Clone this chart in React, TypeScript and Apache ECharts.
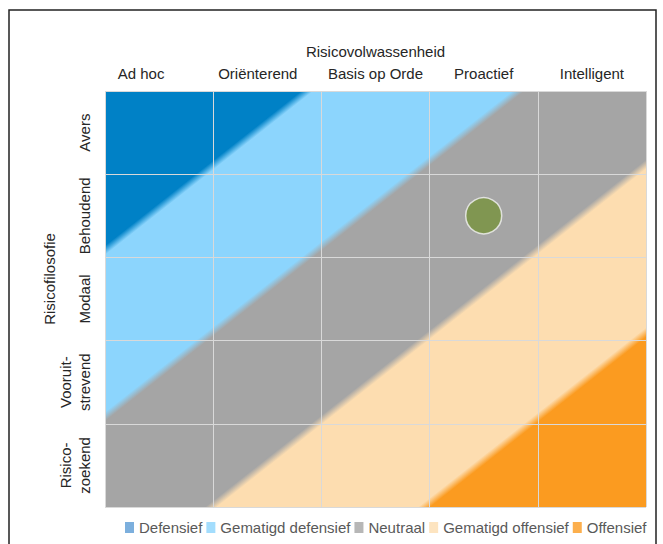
import React, { useEffect, useRef } from "react";
import * as echarts from "echarts";

// ---- data ----
const columns = ["Ad hoc", "Oriënterend", "Basis op Orde", "Proactief", "Intelligent"];
const rows = ["Avers", "Behoudend", "Modaal", "Vooruit-\nstrevend", "Risico-\nzoekend"];
const bandNames = ["Defensief", "Gematigd defensief", "Neutraal", "Gematigd offensief", "Offensief"];
// band boundaries along the diagonal u = column + tilt * row (in cell units)
const bandEdges = [1.87, 3.82, 5.86, 7.83];
const diagonalTilt = 0.976;
const currentPosition = [["Proactief", "Behoudend"]];
const xTitle = "Risicovolwassenheid";
const yTitle = "Risicofilosofie";

// ---- styles ----
const bandColors = ["#0081C6", "#8CD5FD", "#A5A5A5", "#FDDDB0", "#FB9B20"];
const legendColors = ["#5B9BD5", "#8CD5FD", "#A5A5A5", "#FDDDB0", "#FB9B20"];
const FONT = "'Liberation Sans', Arial, sans-serif";
const TEXT = "#262626";

export default function App() {
  const ref = useRef<HTMLDivElement>(null);

  useEffect(() => {
    if (!ref.current) return;
    const chart = echarts.init(ref.current, null, { renderer: "svg" });
    const k = diagonalTilt;
    const blur = 0.055;

    const renderBands = (params: any, api: any) => {
      const p0 = api.coord([0, 0]);
      const px = api.coord([1, 0]);
      const py = api.coord([0, 1]);
      const p5 = api.coord([5, 5]);
      const w = px[0] - p0[0];
      const h = py[1] - p0[1];
      const U = 5 + 5 * k;
      const gx = 1 / w;
      const gy = k / h;
      const t = U / (gx * gx + gy * gy);
      const x2 = p0[0] + t * gx;
      const y2 = p0[1] + t * gy;
      const stops: any[] = [{ offset: 0, color: bandColors[0] }];
      bandEdges.forEach((e, i) => {
        stops.push({ offset: (e - blur) / U, color: bandColors[i] });
        stops.push({ offset: (e + blur) / U, color: bandColors[i + 1] });
      });
      stops.push({ offset: 1, color: bandColors[bandColors.length - 1] });
      return {
        type: "rect",
        shape: { x: p0[0], y: p0[1], width: p5[0] - p0[0], height: p5[1] - p0[1] },
        style: { fill: new echarts.graphic.LinearGradient(p0[0], p0[1], x2, y2, stops, true) },
      };
    };

    const option: any = {
      animation: false,
      textStyle: { fontFamily: FONT },
      grid: { left: 105, top: 91, width: 541, height: 416, containLabel: false },
      graphic: [
        {
          type: "rect",
          shape: { x: 9, y: 10, width: 647, height: 560 },
          style: { fill: "none", stroke: "#222", lineWidth: 1.5 },
          silent: true,
        },
        {
          type: "text",
          x: 49,
          y: 279,
          rotation: Math.PI / 2,
          style: {
            text: yTitle,
            fill: TEXT,
            font: `15px ${FONT}`,
            align: "center",
            verticalAlign: "middle",
          },
        },
      ],
      legend: {
        data: bandNames,
        left: 120,
        top: 515,
        icon: "rect",
        itemWidth: 9,
        itemHeight: 11,
        itemGap: 4,
        textStyle: { fontSize: 15, color: "#595959", fontFamily: FONT },
        selectedMode: false,
      },
      xAxis: [
        {
          type: "value",
          min: 0,
          max: 5,
          interval: 1,
          z: 3,
          axisLabel: { show: false },
          axisTick: { show: false },
          axisLine: { show: false },
          splitLine: { show: true, lineStyle: { color: "#D9D9D9", width: 1 } },
        },
        {
          type: "category",
          position: "top",
          data: columns,
          axisLine: { show: false },
          axisTick: { show: false },
          splitLine: { show: false },
          axisLabel: {
            interval: 0,
            margin: 10,
            fontSize: 15,
            color: TEXT,
            fontFamily: FONT,
            formatter: (v: string, i: number) => (i === 0 ? `{a|${v}}` : i === 1 ? `{b|${v}}` : v),
            rich: {
              a: { fontSize: 15, color: TEXT, fontFamily: FONT, padding: [0, 36, 0, 0] },
              b: { fontSize: 15, color: TEXT, fontFamily: FONT, padding: [0, 19, 0, 0] },
            },
          },
          name: xTitle,
          nameLocation: "middle",
          nameGap: 32,
          nameTextStyle: { fontSize: 15, color: TEXT, fontFamily: FONT },
        },
      ],
      yAxis: [
        {
          type: "value",
          min: 0,
          max: 5,
          interval: 1,
          inverse: true,
          z: 3,
          axisLabel: { show: false },
          axisTick: { show: false },
          axisLine: { show: false },
          splitLine: { show: true, lineStyle: { color: "#D9D9D9", width: 1 } },
        },
        {
          type: "category",
          position: "left",
          inverse: true,
          data: rows,
          axisLine: { show: false },
          axisTick: { show: false },
          splitLine: { show: false },
          axisLabel: {
            interval: 0,
            rotate: 90,
            margin: 11,
            fontSize: 15,
            lineHeight: 19,
            color: TEXT,
            fontFamily: FONT,
          },
        },
      ],
      series: [
        {
          type: "custom",
          name: "bands",
          xAxisIndex: 0,
          yAxisIndex: 0,
          z: 1,
          silent: true,
          renderItem: renderBands,
          data: [[0, 0]],
        },
        ...bandNames.map((n, i) => ({
          type: "scatter",
          name: n,
          xAxisIndex: 0,
          yAxisIndex: 0,
          data: [],
          itemStyle: { color: legendColors[i] },
        })),
        {
          type: "scatter",
          name: "positie",
          xAxisIndex: 1,
          yAxisIndex: 1,
          z: 10,
          symbol: "circle",
          symbolSize: 36,
          data: currentPosition,
          itemStyle: { color: "#77923C", borderColor: "#F2F2F2", borderWidth: 1.5 },
        },
      ],
    };
    chart.setOption(option);
    return () => chart.dispose();
  }, []);

  return (
    <div
      ref={ref}
      style={{ position: "fixed", left: 0, top: 0, width: 663, height: 544, background: "#fff" }}
    />
  );
}
